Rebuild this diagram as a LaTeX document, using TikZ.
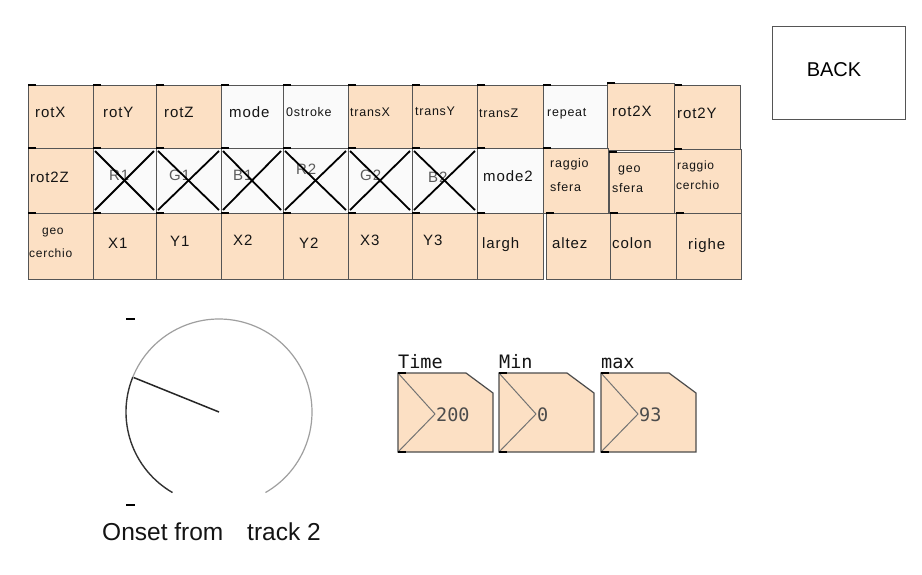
\documentclass[tikz,border=0pt]{standalone}
\usepackage{fontspec}
\setmainfont{Liberation Sans}
\newfontfamily\cellfont[LetterSpace=6]{Liberation Sans}
\newfontfamily\pdmono{DejaVu Sans Mono}
\definecolor{peach}{RGB}{252,224,196}
\definecolor{offwhite}{RGB}{250,250,250}
\definecolor{edge}{RGB}{85,85,85}
\definecolor{ink}{RGB}{20,20,20}
\definecolor{dimink}{RGB}{90,90,90}
\tikzset{
  celledge/.style={draw=edge, line width=1pt},
  tickmark/.style={draw=black, line width=2pt},
  crossline/.style={draw=black, line width=1.8pt},
  lbl/.style={inner sep=0pt, anchor=base west, text=ink},
  big/.style={font=\cellfont\fontsize{15}{17}\selectfont},
  small/.style={font=\cellfont\fontsize{12.5}{14}\selectfont},
  tiny/.style={font=\cellfont\fontsize{12}{14}\selectfont},
  knoblight/.style={draw=gray!75, line width=1.2pt},
  knobdark/.style={draw=black!80, line width=1.4pt},
  pointer/.style={draw=black!85, line width=1.5pt},
  knobdash/.style={draw=black, line width=2.5pt},
  numedge/.style={draw=black!70, line width=1.2pt, fill=peach},
  numarrow/.style={draw=black!55, line width=1pt},
  monolbl/.style={inner sep=0pt, anchor=base west, text=ink, font=\pdmono\fontsize{18.5}{20}\selectfont},
  monoval/.style={inner sep=0pt, anchor=base west, text=black!70, font=\pdmono\fontsize{18.5}{20}\selectfont},
}
\newcommand\pdcell[5]{\filldraw[celledge, fill=#5] (#1,#2) rectangle (#3,#4); \draw[tickmark] (#1,#2) -- ++(8,0);}
\newcommand\pdcross[4]{\draw[crossline] (#1+2,#2+3) -- (#3-2,#4-3); \draw[crossline] (#1+2,#4-3) -- (#3-2,#2+3);}
\newcommand\pdnum[5]{%
  \filldraw[numedge] (#1,373) -- (#1+68,373) -- (#1+95,393) -- (#1+95,452) -- (#1,452) -- cycle;
  \draw[numarrow] (#1,373) -- (#1+37,414) -- (#1,452);
  \draw[tickmark] (#1,373) -- ++(8,0);
  \draw[tickmark] (#1,452) -- ++(8,0);
  \node[monolbl] (#4) at (#1,368) {#2};
  \node[monoval] (#5) at (#1+38,421) {#3};
}
\begin{document}
\begin{tikzpicture}[x=1pt,y=-1pt]
\useasboundingbox (0,0) rectangle (922,574);
\fill[white] (0,0) rectangle (922,574);

% ---------- row 1 ----------
\pdcell{28}{85}{93}{148}{peach}
\pdcell{93}{85}{156}{148}{peach}
\pdcell{156}{85}{221}{148}{peach}
\pdcell{221}{85}{283}{148}{offwhite}
\pdcell{283}{85}{348}{148}{offwhite}
\pdcell{348}{85}{412}{148}{peach}
\pdcell{412}{85}{477}{148}{peach}
\pdcell{477}{85}{543}{148}{peach}
\pdcell{543}{85}{608}{148}{offwhite}
\pdcell{674}{85}{740}{150}{peach}
\pdcell{607}{83}{674}{150}{peach}

% ---------- row 2 ----------
\pdcell{28}{148}{93}{213}{peach}
\pdcell{93}{148}{156}{213}{offwhite}
\pdcell{156}{148}{221}{213}{offwhite}
\pdcell{221}{148}{283}{213}{offwhite}
\pdcell{283}{148}{348}{213}{offwhite}
\pdcell{348}{148}{412}{213}{offwhite}
\pdcell{412}{148}{477}{213}{offwhite}
\pdcell{477}{148}{543}{213}{offwhite}
\pdcell{543}{148}{608}{213}{peach}
\pdcell{609}{152}{674}{213}{peach}
\pdcell{674}{149}{741}{213}{peach}

% ---------- row 3 ----------
\pdcell{28}{213}{93}{279}{peach}
\pdcell{93}{213}{156}{279}{peach}
\pdcell{156}{213}{221}{279}{peach}
\pdcell{221}{213}{283}{279}{peach}
\pdcell{283}{213}{348}{279}{peach}
\pdcell{348}{213}{412}{279}{peach}
\pdcell{412}{213}{477}{279}{peach}
\pdcell{477}{213}{543}{279}{peach}
\pdcell{546}{213}{610}{279}{peach}
\pdcell{610}{213}{676}{279}{peach}
\pdcell{676}{213}{741}{279}{peach}

% ---------- labels row 1 ----------
\node[lbl,big] (tRotX) at (35,117) {rotX};
\node[lbl,big] (tRotY) at (103,117) {rotY};
\node[lbl,big] (tRotZ) at (164,117) {rotZ};
\node[lbl,big] (tMode) at (229,117) {mode};
\node[lbl,small] (tStroke) at (286,116) {0stroke};
\node[lbl,small] (tTransX) at (350,116) {transX};
\node[lbl,small] (tTransY) at (415,115) {transY};
\node[lbl,small] (tTransZ) at (479,117) {transZ};
\node[lbl,small] (tRepeat) at (547,116) {repeat};
\node[lbl,big] (tRotTwoX) at (612,116) {rot2X};
\node[lbl,big] (tRotTwoY) at (677,118) {rot2Y};

% ---------- labels row 2 ----------
\node[lbl,big] (tRotTwoZ) at (30,182) {rot2Z};
\node[lbl,big,text=dimink] (tRa) at (109,180) {R1};
\node[lbl,big,text=dimink] (tGa) at (169,180) {G1};
\node[lbl,big,text=dimink] (tBa) at (233,180) {B1};
\node[lbl,big,text=dimink] (tRb) at (296,174) {R2};
\node[lbl,big,text=dimink] (tGb) at (360,180) {G2};
\node[lbl,big,text=dimink] (tBb) at (428,182) {B2};
\node[lbl,big] (tModeTwo) at (483,181) {mode2};
\node[lbl,small] (tRagA) at (550,167) {raggio};
\node[lbl,small] (tSferaA) at (550,191) {sfera};
\node[lbl,small] (tGeoA) at (618,172) {geo};
\node[lbl,small] (tSferaB) at (612,192) {sfera};
\node[lbl,tiny] (tRagB) at (677,169) {raggio};
\node[lbl,tiny] (tCerchioB) at (676,189) {cerchio};
\pdcross{93}{148}{156}{213}
\pdcross{156}{148}{221}{213}
\pdcross{221}{148}{283}{213}
\pdcross{283}{148}{348}{213}
\pdcross{348}{148}{412}{213}
\pdcross{412}{148}{477}{213}

% ---------- labels row 3 ----------
\node[lbl,tiny] (tGeoB) at (42,234) {geo};
\node[lbl,tiny] (tCerchioA) at (29,257) {cerchio};
\node[lbl,big] (tXa) at (108,248) {X1};
\node[lbl,big] (tYa) at (170,246) {Y1};
\node[lbl,big] (tXb) at (233,245) {X2};
\node[lbl,big] (tYb) at (299,248) {Y2};
\node[lbl,big] (tXc) at (360,245) {X3};
\node[lbl,big] (tYc) at (423,245) {Y3};
\node[lbl,big] (tLargh) at (482,248) {largh};
\node[lbl,big] (tAltez) at (552,248) {altez};
\node[lbl,big] (tColon) at (612,248) {colon};
\node[lbl,big] (tRighe) at (688,249) {righe};

% ---------- BACK button ----------
\draw[celledge] (772,26) rectangle (905,119);
\node[inner sep=0pt, text=black, font=\fontsize{20}{22}\selectfont] (back) at (834,70) {BACK};

% ---------- knob ----------
\coordinate (kc) at (219,412);
\draw[knoblight] (kc) ++(60:93) arc[start angle=60, end angle=-158, radius=93];
\draw[knobdark] (kc) ++(-158:93) arc[start angle=-158, end angle=-240, radius=93];
\path (kc) ++(-158:92) coordinate (ktip);
\draw[pointer] (kc) -- (ktip);
\draw[knobdash] (126,319) -- (135,319);
\draw[knobdash] (126,505) -- (135,505);
\node[inner sep=0pt, anchor=base west, text=ink, font=\fontsize{24.5}{26}\selectfont] (onsetA) at (102,540) {Onset from};
\node[inner sep=0pt, anchor=base west, text=ink, font=\fontsize{24.5}{26}\selectfont] (onsetB) at (247,540) {track 2};

% ---------- number boxes ----------
\pdnum{398}{Time}{200}{lTime}{vTime}
\pdnum{499}{Min}{0}{lMin}{vMin}
\pdnum{601}{max}{93}{lMax}{vMax}
\end{tikzpicture}
\end{document}
